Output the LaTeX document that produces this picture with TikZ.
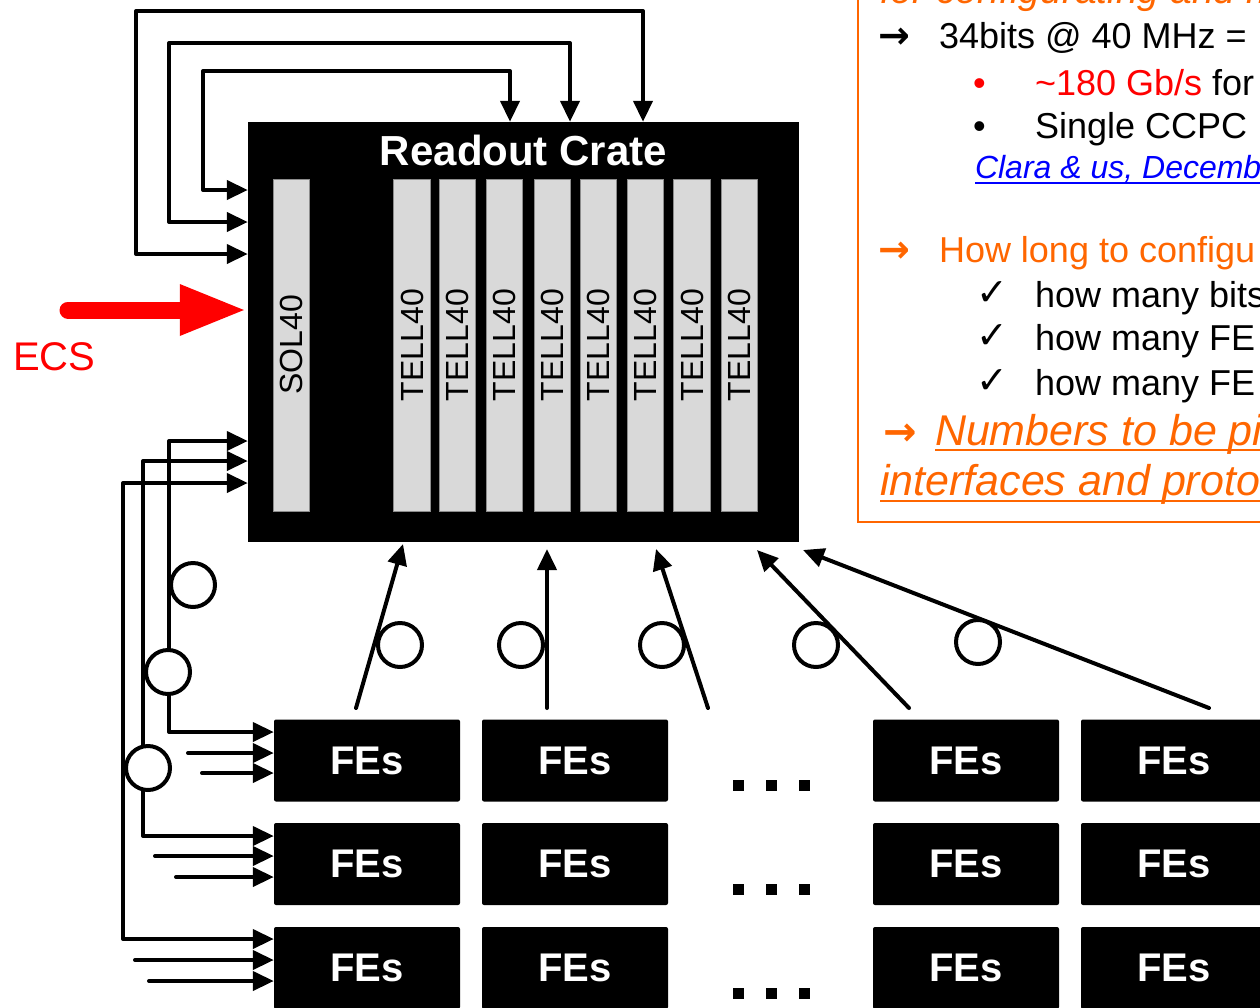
\documentclass[tikz,border=0pt]{standalone}
\usepackage{fontspec}
\usepackage{graphicx}
\setmainfont{Liberation Sans}
\newfontfamily\symfont{DejaVu Sans}
\usetikzlibrary{arrows.meta}
\definecolor{ora}{RGB}{255,102,0}
\definecolor{slotgray}{RGB}{217,217,217}
\definecolor{lnk}{RGB}{0,0,255}
\newcommand\fsz[1]{\fontsize{#1}{#1}\selectfont}
\begin{document}
\begin{tikzpicture}[x=1pt,y=-1pt,
  >={Triangle[length=21pt,width=19pt]},
  link/.style={line width=4pt,line cap=round,line join=round},
  crate/.style={fill=black,inner sep=0,minimum width=551pt,minimum height=420pt},
  slotbox/.style={draw=black!45,line width=0.6pt,fill=slotgray,inner sep=0,minimum width=36.5pt,minimum height=332pt,font=\fsz{32}},
  febox/.style={fill=black,rounded corners=2pt,inner sep=0,minimum width=186pt,minimum height=82pt,text=white,font=\bfseries\fsz{40}},
  loopc/.style={circle,draw,line width=4pt,fill=white,minimum size=44pt,inner sep=0},
  dotsq/.style={fill=black,inner sep=0,minimum size=11pt},
  txt/.style={anchor=base west,inner sep=0,outer sep=0},
]
\useasboundingbox (0,0) rectangle (1260,1007);
\clip (0,0) rectangle (1260,1007);

% crate
\node[crate] (crate) at (523.5,332) {};
\node[txt,anchor=base,text=white,font=\bfseries\fsz{42}] (title) at (523.5,165) {Readout Crate};
\node[slotbox] (sol) at (291.5,345) {\rotatebox{90}{SOL40}};
\foreach \i/\x in {1/412,2/457.5,3/504.5,4/552.5,5/598.5,6/645.5,7/692,8/739.5}
  \node[slotbox] (tell\i) at (\x,345) {\rotatebox{90}{TELL40}};

% FE boxes
\foreach \r/\y in {1/760.5,2/864,3/968}{
  \node[febox] (fe\r1) at (367,\y) {FEs};
  \node[febox] (fe\r2) at (575,\y) {FEs};
  \node[febox] (fe\r3) at (966,\y) {FEs};
  \node[febox] (fe\r4) at (1174,\y) {FEs};
}
\foreach \r/\y in {1/785,2/889,3/993}{
  \node[dotsq] (d\r a) at (738,\y) {};
  \node[dotsq] (d\r b) at (771,\y) {};
  \node[dotsq] (d\r c) at (804,\y) {};
}

% top loops
\draw[link,<->] (crate.west |- 0,254) -| (136,11) -| (643,0 |- crate.north);
\draw[link,<->] (crate.west |- 0,222) -| (169,43) -| (570,0 |- crate.north);
\draw[link,<->] (crate.west |- 0,190) -| (203,71) -| (510,0 |- crate.north);

% ECS
\draw[red,line width=17pt,line cap=round,-{Triangle[length=68pt,width=46pt]}] (68,310) -- (crate.west |- 0,310);
\node[txt,text=red,font=\fsz{40}] (ecs) at (13,370) {ECS};

% bottom-left links
\draw[link,<->] (crate.west |- 0,441) -| (169,732) -- (fe11.west |- 0,732);
\draw[link,<->] (crate.west |- 0,461) -| (143,836) -- (fe21.west |- 0,836);
\draw[link,<->] (crate.west |- 0,483) -| (123,939) -- (fe31.west |- 0,939);
\coordinate (s1a) at (188,753); \coordinate (s1b) at (202,773);
\coordinate (s2a) at (155,856); \coordinate (s2b) at (176,877);
\coordinate (s3a) at (135,960); \coordinate (s3b) at (149,981);
\draw[link,->] (s1a) -- (fe11.west |- s1a);
\draw[link,->] (s1b) -- (fe11.west |- s1b);
\draw[link,->] (s2a) -- (fe21.west |- s2a);
\draw[link,->] (s2b) -- (fe21.west |- s2b);
\draw[link,->] (s3a) -- (fe31.west |- s3a);
\draw[link,->] (s3b) -- (fe31.west |- s3b);
\node[loopc] (la) at (193,585) {};
\node[loopc] (lb) at (168,672) {};
\node[loopc] (lc) at (148,768) {};

% FE -> crate links
\node[loopc] (ca) at (400,645) {};
\node[loopc] (cb) at (521,645) {};
\node[loopc] (cc) at (662,645) {};
\node[loopc] (cd) at (816,645) {};
\node[loopc] (ce) at (978,642) {};
\coordinate (u1) at (356,708); \coordinate (v1) at (403,544);
\coordinate (u2) at (547,708); \coordinate (v2) at (547,549);
\coordinate (u3) at (708,708); \coordinate (v3) at (656,549);
\coordinate (u4) at (909,708); \coordinate (v4) at (757,550);
\coordinate (u5) at (1209,708); \coordinate (v5) at (803,550);
\foreach \k in {1,...,5} \draw[link,->] (u\k) -- (v\k);

% text box
\draw[ora,line width=2pt] (858,-10) rectangle (1290,522);
\node[txt,text=ora,font=\itshape\fsz{39}] (t0) at (880,3) {for configurating and m};
\node[txt,font=\symfont\bfseries\fsz{38}] (a1) at (878,48) {→};
\node[txt,font=\fsz{36}] (t1) at (939,48) {34bits @ 40 MHz =};
\node[txt,text=red,font=\fsz{36}] (b1) at (973,95) {•};
\node[txt,font=\fsz{36}] (t2) at (1035,95) {{\color{red}\textasciitilde 180 Gb/s} for};
\node[txt,font=\fsz{36}] (b2) at (973,138) {•};
\node[txt,font=\fsz{36}] (t3) at (1035,138) {Single CCPC};
\node[txt,text=lnk,font=\itshape\fsz{32}] (t4) at (975,178) {Clara \& us, Decemb};
\draw[lnk,line width=1.5pt] (t4.base west) ++(0,5) -- ++(320,0);
\node[txt,text=ora,font=\symfont\bfseries\fsz{38}] (a2) at (878,262) {→};
\node[txt,text=ora,font=\fsz{36}] (t5) at (939,262) {How long to configu};
\node[txt,font=\symfont\fsz{38}] (k1) at (976,305) {✓};
\node[txt,font=\fsz{36}] (t6) at (1035,307) {how many bits};
\node[txt,font=\symfont\fsz{38}] (k2) at (976,348) {✓};
\node[txt,font=\fsz{36}] (t7) at (1035,350) {how many FE};
\node[txt,font=\symfont\fsz{38}] (k3) at (976,393) {✓};
\node[txt,font=\fsz{36}] (t8) at (1035,395) {how many FE};
\node[txt,text=ora,font=\symfont\bfseries\itshape\fsz{40}] (a3) at (883,445) {→};
\node[txt,text=ora,font=\itshape\fsz{43}] (t9) at (935,445) {Numbers to be pi};
\draw[ora,line width=2pt] (t9.base west) ++(0,5) -- ++(400,0);
\node[txt,text=ora,font=\itshape\fsz{43}] (t10) at (880,495) {interfaces and proto};
\draw[ora,line width=2pt] (t10.base west) ++(0,6) -- ++(400,0);
\end{tikzpicture}
\end{document}
